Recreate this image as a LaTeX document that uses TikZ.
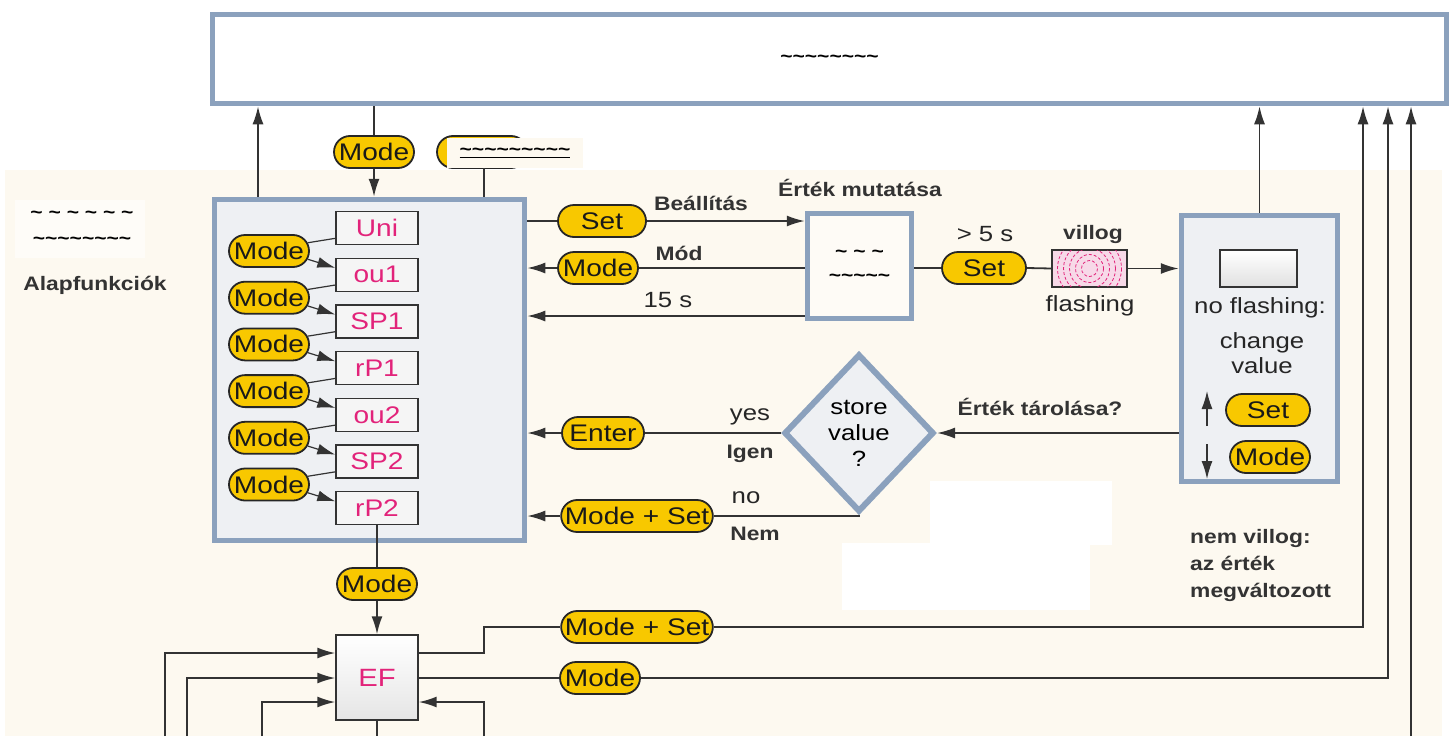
\documentclass[tikz,border=0pt]{standalone}
\usepackage{fontspec}
\setmainfont[FakeStretch=1.17]{Liberation Sans}
\usetikzlibrary{arrows.meta,shapes.geometric,shapes.misc,calc}

\definecolor{framegray}{HTML}{8BA1BD}
\definecolor{boxgray}{HTML}{EEF0F3}
\definecolor{creamback}{HTML}{FDF9F0}
\definecolor{pillyellow}{HTML}{F8C800}
\definecolor{parmag}{HTML}{E2237A}
\definecolor{linegray}{HTML}{333333}
\definecolor{flashpink}{HTML}{F7D9E8}

\newcommand\tld{\textasciitilde}
\newcommand\pillfont{\fontsize{24}{26}\selectfont}
\newcommand\lblfont{\fontsize{22}{26}\selectfont}
\newcommand\hulbl{\fontsize{19.5}{27}\selectfont\bfseries}

\tikzset{
  pill/.style={rounded rectangle, draw=black!85, line width=1.8pt, fill=pillyellow,
    minimum height=32pt, minimum width=#1, inner xsep=1pt, inner ysep=0pt,
    font=\pillfont, text=black!90},
  pill/.default=82pt,
  frame/.style={draw=framegray, line width=5.5pt, fill=boxgray},
  parbox/.style={draw=linegray, line width=1.4pt, fill=black!4, minimum width=82pt,
    minimum height=33pt, text=parmag, font=\pillfont, inner sep=0pt},
  conn/.style={draw=linegray, line width=1.8pt},
  arr/.style={conn, -{Latex[length=18pt,width=11pt]}},
  lbl/.style={font=\lblfont, inner sep=0pt, text=black!85, anchor=base},
  hu/.style={font=\hulbl, inner sep=0pt, text=black!80, anchor=base},
}

\begin{document}
\begin{tikzpicture}[x=1pt,y=-1pt]
  \useasboundingbox (0,0) rectangle (1455,736);
  \fill[white] (0,0) rectangle (1455,736);
  \fill[creamback] (5,170) rectangle (1442,736);
  \fill[white] (930,481) rectangle (1112,545);
  \fill[white] (842,543) rectangle (1090,610);

  % display at the top
  \node[frame, fill=white, minimum width=1234pt, minimum height=89pt,
    font=\bfseries\fontsize{18}{20}\selectfont] (display) at (829.5,59)
    {\tld\tld\tld\tld\tld\tld\tld\tld};

  % left note
  \fill[creamback!50!white] (15,200) rectangle (145,258);
  \node[font=\bfseries\fontsize{18}{26}\selectfont, align=center] (note) at (82,228)
    {\tld\ \tld\ \tld\ \tld\ \tld\ \tld\\ \tld\tld\tld\tld\tld\tld\tld\tld};
  \node[hu] (alap) at (95,290) {Alapfunkciók};

  % basic functions
  \node[frame, minimum width=310pt, minimum height=341pt] (lbox) at (369.5,370) {};
  \foreach \p [count=\i from 0] in {Uni,ou1,SP1,rP1,ou2,SP2,rP2}
    \node[parbox] (p\i) at (377,228+46.7*\i) {\p};
  \foreach \i [evaluate=\i as \j using int(\i+1)] in {0,...,5} {
    \node[pill] (m\i) at (269,251+46.7*\i) {Mode};
    \draw[conn, line width=1.2pt] (m\i.12) -- ($(p\i.north west)!0.8!(p\i.south west)$);
    \draw[arr, line width=1.2pt] (m\i.-12) -- ($(p\j.north west)!0.3!(p\j.south west)$);
  }

  % top connections
  \node[pill] (mtop) at (374,152) {Mode};
  \node[pill=92pt] (mhid) at (482,152) {};
  \node[fill=creamback, inner sep=0pt, minimum width=136pt, minimum height=30pt,
    font=\bfseries\fontsize{18}{20}\selectfont] (patch) at (515,153)
    {\underline{\tld\tld\tld\tld\tld\tld\tld\tld\tld}};
  \coordinate (upL) at (258,0);
  \coordinate (colA) at (484,0);
  \draw[arr] (lbox.north -| upL) -- (display.south -| upL);
  \draw[conn] (display.south -| mtop) -- (mtop.north);
  \draw[arr] (mtop.south) -- (lbox.north -| mtop);
  \draw[conn] (patch.south -| colA) -- (lbox.north -| colA);

  % value display
  \node[frame, fill=creamback!60!white, minimum width=104pt, minimum height=105pt,
    font=\bfseries\fontsize{18}{24}\selectfont, align=center] (ebox) at (859.5,266)
    {\tld\ \tld\ \tld\\ \tld\tld\tld\tld\tld};
  \node[hu] (ertek) at (860,196) {Érték mutatása};
  \node[pill=90pt] (mset) at (602,221) {Set};
  \node[hu] (beall) at (701,210) {Beállítás};
  \node[pill] (mmod) at (598,268) {Mode};
  \node[hu] (mod) at (679,260) {Mód};
  \node[lbl] (tmo) at (668,307) {15 s};
  \coordinate (tout) at (0,316);
  \draw[conn] (lbox.east |- mset) -- (mset.west);
  \draw[arr] (mset.east) -- (ebox.west |- mset);
  \draw[conn] (ebox.west |- mmod) -- (mmod.east);
  \draw[arr] (mmod.west) -- (lbox.east |- mmod);
  \draw[arr] (ebox.west |- tout) -- (lbox.east |- tout);

  % change value
  \node[frame, minimum width=156pt, minimum height=266pt] (rbox) at (1259.5,348.5) {};
  \node[draw=linegray, line width=1.2pt, top color=white, bottom color=black!12,
    minimum width=77pt, minimum height=37pt] (rdisp) at (1258.5,268.5) {};
  \node[lbl] (nofl) at (1260,313) {no flashing:};
  \node[lbl] (chg) at (1262,348) {change};
  \node[lbl] (chv) at (1262,373) {value};
  \node[pill=86pt] (rset) at (1268,410) {Set};
  \node[pill] (rmode) at (1270,457) {Mode};
  \coordinate (upa) at (1207,426);
  \coordinate (upb) at (1207,391);
  \coordinate (dna) at (1207,444);
  \coordinate (dnb) at (1207,479);
  \draw[arr, line width=1.4pt] (upa) -- (upb);
  \draw[arr, line width=1.4pt] (dna) -- (dnb);
  \draw[arr] (rbox.north) -- (rbox.north |- display.south);
  \node[hu, anchor=north west, align=left] (nemv) at (1190,529)
    {nem villog:\\az érték\\megváltozott};

  % flashing
  \node[pill=86pt] (mset2) at (984,268) {Set};
  \node[lbl] (gt) at (985,241) {> 5 s};
  \node[draw=linegray, line width=1.2pt, fill=flashpink, minimum width=75pt,
    minimum height=37pt] (flash) at (1089.5,268.5) {};
  \begin{scope}
    \clip (flash.south west) rectangle (flash.north east);
    \foreach \r in {8,14,20,26,32}
      \draw[parmag, densely dashed, line width=0.8pt] (flash.center) circle [radius=\r];
  \end{scope}
  \draw[linegray, line width=1.2pt] (flash.south west) rectangle (flash.north east);
  \node[hu] (vill) at (1093,239) {villog};
  \node[lbl] (flsh) at (1090,311) {flashing};
  \draw[conn] (ebox.east |- mset2) -- (mset2.west);
  \draw[conn] (mset2.east) -- (flash.west);
  \draw[arr] (flash.east) -- (rbox.west |- flash);

  % store value?
  \node[frame, diamond, line width=6pt, minimum width=150pt, minimum height=158pt,
    inner sep=0pt, font=\lblfont, align=center] (dia) at (859,433) {store\\value\\?};
  \node[hu] (tarol) at (1040,415) {Érték tárolása?};
  \node[pill=84pt] (menter) at (603,433) {Enter};
  \node[lbl] (yes) at (750,420) {yes};
  \node[hu] (igen) at (750,458) {Igen};
  \node[pill=150pt] (mms) at (637,516) {Mode + Set};
  \node[lbl] (no) at (746,503) {no};
  \node[hu] (nem) at (755,540) {Nem};
  \draw[arr] (rbox.west |- dia) -- (dia.east);
  \draw[conn] (dia.west) -- (menter.east);
  \draw[arr] (menter.west) -- (lbox.east |- menter);
  \draw[conn] (dia.south) |- (mms.east);
  \draw[arr] (mms.west) -- (lbox.east |- mms);

  % extended functions
  \node[pill] (mbot) at (377,584) {Mode};
  \node[parbox, minimum height=85pt, font=\fontsize{25}{27}\selectfont,
    top color=white, bottom color=black!10] (ef) at (377,677.5) {EF};
  \node[pill=150pt] (mms2) at (637,627) {Mode + Set};
  \node[pill] (mef) at (600,678) {Mode};
  \draw[conn] (p6.south) -- (mbot.north);
  \draw[arr] (mbot.south) -- (ef.north);

  \coordinate (ja) at (0,653);
  \coordinate (jb) at (0,678);
  \coordinate (jc) at (0,702);
  \coordinate (r1) at (1363,0);
  \coordinate (r2) at (1388,0);
  \coordinate (r3) at (1411,0);
  \coordinate (r3b) at (1411,736);
  \coordinate (b1) at (165,736);
  \coordinate (b2) at (187,736);
  \coordinate (b3) at (262,736);
  \coordinate (b4) at (484,736);
  \coordinate (b5) at (377,736);
  \draw[conn] (ef.east |- ja) -| (colA |- mms2) -- (mms2.west);
  \draw[arr] (mms2.east) -| (r1 |- display.south);
  \draw[conn] (ef.east |- mef) -- (mef.west);
  \draw[arr] (mef.east) -| (r2 |- display.south);
  \draw[arr] (r3b) -- (r3 |- display.south);
  \draw[arr] (b1) |- (ef.west |- ja);
  \draw[arr] (b2) |- (ef.west |- jb);
  \draw[arr] (b3) |- (ef.west |- jc);
  \draw[arr] (b4) |- (ef.east |- jc);
  \draw[conn] (ef.south) -- (b5);
\end{tikzpicture}
\end{document}
